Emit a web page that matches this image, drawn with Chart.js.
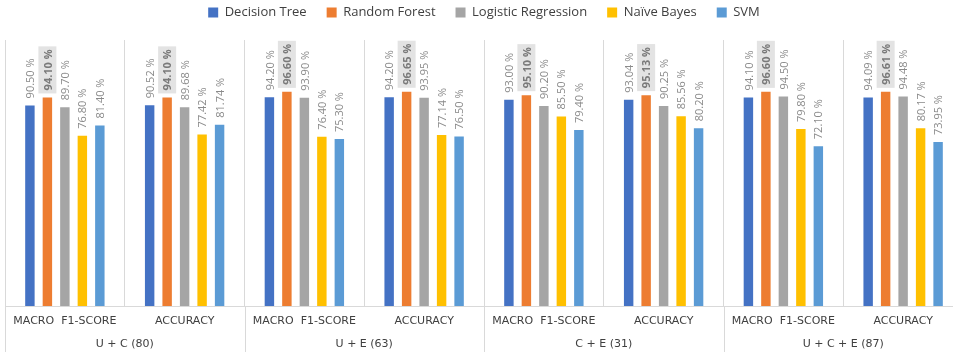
<!DOCTYPE html>
<html>
<head>
<meta charset="utf-8">
<script src="https://cdn.jsdelivr.net/npm/chart.js@4"></script>
<style>
  html, body { margin: 0; padding: 0; background: #ffffff; overflow: hidden; }
  #wrap { position: absolute; left: 0; top: 0; width: 967px; height: 352px; }
</style>
</head>
<body>
<div id="wrap"><canvas id="chart" width="967" height="352"></canvas></div>
<script>
// Metric per category, two metrics for each feature-set group
const categories = ['MACRO  F1-SCORE', 'ACCURACY', 'MACRO  F1-SCORE', 'ACCURACY',
                    'MACRO  F1-SCORE', 'ACCURACY', 'MACRO  F1-SCORE', 'ACCURACY'];
const groups = ['U + C (80)', 'U + E (63)', 'C + E (31)', 'U + C + E (87)'];

const seriesNames = ['Decision Tree', 'Random Forest', 'Logistic Regression', 'Naïve Bayes', 'SVM'];
const decisionTree       = [90.50, 90.52, 94.20, 94.20, 93.00, 93.04, 94.10, 94.09];
const randomForest       = [94.10, 94.10, 96.60, 96.65, 95.10, 95.13, 96.60, 96.61];
const logisticRegression = [89.70, 89.68, 93.90, 93.95, 90.20, 90.25, 94.50, 94.48];
const naiveBayes         = [76.80, 77.42, 76.40, 77.14, 85.50, 85.56, 79.80, 80.17];
const svm                = [81.40, 81.74, 75.30, 76.50, 79.40, 80.20, 72.10, 73.95];

const seriesValues = [decisionTree, randomForest, logisticRegression, naiveBayes, svm];
const seriesColors = ['#4472C4', '#ED7D31', '#A5A5A5', '#FFC000', '#5B9BD5'];
const highlightedSeries = 1; // best model gets bold, shaded labels

const GRID = '#d9d9d9';
const AXIS_TEXT = '#404040';

// Vertical value labels above each bar
const valueLabels = {
  id: 'valueLabels',
  afterDatasetsDraw(chart) {
    const ctx = chart.ctx;
    chart.data.datasets.forEach((ds, di) => {
      const meta = chart.getDatasetMeta(di);
      if (meta.hidden) return;
      const bold = di === highlightedSeries;
      meta.data.forEach((bar, i) => {
        const text = ds.data[i].toFixed(2) + ' %';
        ctx.save();
        ctx.translate(bar.x, bar.y - 7);
        ctx.rotate(-Math.PI / 2);
        ctx.font = (bold ? 'bold ' : '') + '11px "Open Sans"';
        ctx.textAlign = 'left';
        ctx.textBaseline = 'middle';
        if (bold) {
          const w = ctx.measureText(text).width;
          ctx.fillStyle = '#e3e3e3';
          ctx.fillRect(-3, -9, w + 6, 18);
        }
        ctx.fillStyle = bold ? '#7a7a7a' : '#8a8a8a';
        ctx.fillText(text, 0, 1);
        ctx.restore();
      });
    });
  }
};

// Second level of the category axis: group names and full-height separators
const groupAxis = {
  id: 'groupAxis',
  afterDraw(chart) {
    const x = chart.scales.x;
    const ctx = chart.ctx;
    const half = (x.getPixelForValue(1) - x.getPixelForValue(0)) / 2;
    ctx.save();
    ctx.strokeStyle = GRID;
    ctx.lineWidth = 1;
    for (let g = 0; g <= groups.length; g++) {
      const px = Math.round(x.getPixelForValue(g * 2) - half) + 0.5;
      ctx.beginPath();
      ctx.moveTo(px, x.top);
      ctx.lineTo(px, chart.height);
      ctx.stroke();
    }
    ctx.font = '11px "DejaVu Sans"';
    ctx.fillStyle = AXIS_TEXT;
    ctx.textAlign = 'center';
    ctx.textBaseline = 'middle';
    groups.forEach((name, g) => {
      const cx = (x.getPixelForValue(2 * g) + x.getPixelForValue(2 * g + 1)) / 2;
      ctx.fillText(name, cx, x.top + 38);
    });
    ctx.restore();
  }
};

// Fixed-height legend band, with the row lifted toward the top
const legendBand = {
  id: 'legendBand',
  beforeInit(chart) {
    const legend = chart.legend;
    const fit = legend.fit;
    legend.fit = function () {
      fit.call(this);
      this.height = 40;
    };
    const draw = legend.draw;
    legend.draw = function () {
      this.ctx.save();
      this.ctx.translate(0, -14);
      draw.call(this);
      this.ctx.restore();
    };
  }
};

new Chart(document.getElementById('chart'), {
  type: 'bar',
  data: {
    labels: categories,
    datasets: seriesNames.map((name, i) => ({
      label: name,
      data: seriesValues[i],
      backgroundColor: seriesColors[i],
      borderWidth: 0,
      barPercentage: 0.54,
      categoryPercentage: 0.73
    }))
  },
  options: {
    responsive: false,
    animation: false,
    layout: { padding: { left: 5, right: 4, top: 0, bottom: 0 } },
    plugins: {
      legend: {
        position: 'top',
        labels: {
          boxWidth: 10,
          boxHeight: 10,
          padding: 20,
          color: AXIS_TEXT,
          font: { family: '"Open Sans"', size: 13 }
        }
      },
      tooltip: { enabled: false }
    },
    scales: {
      x: {
        grid: { display: true, color: GRID, drawTicks: false, offset: true },
        border: { display: true, color: GRID },
        ticks: {
          color: AXIS_TEXT,
          font: { family: '"DejaVu Sans"', size: 11 },
          padding: 9,
          autoSkip: false,
          maxRotation: 0
        },
        afterFit(scale) { scale.height = 46; }
      },
      y: {
        display: false,
        min: 0,
        max: 120
      }
    }
  },
  plugins: [legendBand, valueLabels, groupAxis]
});
</script>
</body>
</html>
